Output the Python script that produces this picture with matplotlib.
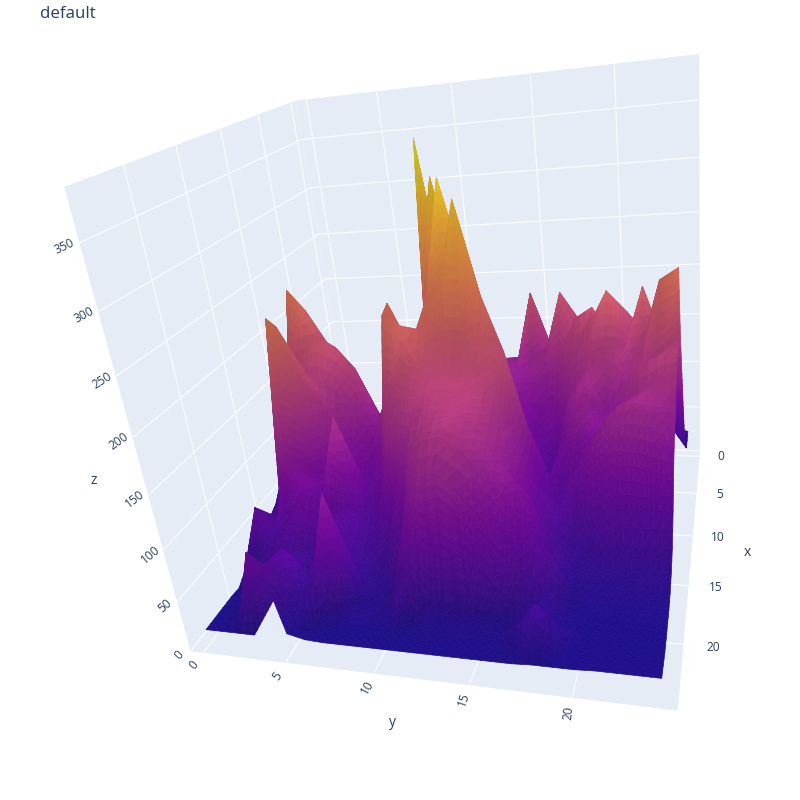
import numpy as np
import matplotlib
matplotlib.use('Agg')
import matplotlib.pyplot as plt
from mpl_toolkits.mplot3d import proj3d
from mpl_toolkits.mplot3d.art3d import Poly3DCollection

nan = float('nan')

# rows are x = 0..24, columns are y = 0..24
z_rows = [
    [15,16,16,18,18,18,18,18,18,20,22,24,30,40,45,50,45,50,50,45,40,40,35,30,28],
    [18,20,22,24,24,24,22,22,24,26,30,35,45,60,70,95,80,75,70,65,60,55,50,40,25],
    [20,24,28,30,30,30,26,25,28,32,38,50,60,70,90,130,110,95,100,85,80,70,70,50,25],
    [20,26,34,38,38,36,30,28,32,38,46,70,75,90,120,165,130,130,140,110,105,100,95,70,35],
    [22,28,40,46,46,42,36,32,36,44,60,90,90,110,135,200,150,150,170,150,130,130,120,90,55],
    [22,30,46,55,55,50,42,36,40,50,70,110,110,140,130,140,150,205,170,175,160,160,150,120,90],
    [24,32,52,65,62,56,46,40,44,55,80,130,140,135,130,130,130,150,185,195,165,190,170,155,130],
    [24,34,60,78,72,62,50,40,44,55,110,160,170,120,120,120,120,130,165,185,215,160,218,170,170],
    [24,36,62,85,76,66,52,40,42,52,360,200,200,180,120,100,95,110,150,165,170,165,170,228,238],
    [25,40,70,90,80,70,55,40,40,50,120,330,230,200,170,100,80,85,130,155,165,150,150,165,180],
    [30,90,190,170,140,130,110,85,70,90,130,310,230,200,180,110,65,70,130,150,120,140,165,172,175],
    [35,120,245,225,195,170,150,110,90,120,150,250,335,260,210,150,70,60,110,140,110,120,145,158,165],
    [40,110,190,195,205,195,175,130,125,170,180,240,260,320,240,190,120,70,90,100,120,140,148,145,135],
    [45,95,140,170,170,160,135,115,150,240,200,215,205,205,210,200,130,70,70,95,125,140,145,142,125],
    [45,70,120,190,175,140,100,90,120,235,225,195,185,185,188,185,125,75,60,80,100,115,115,110,105],
    [40,60,95,232,180,100,85,75,90,170,190,182,180,180,178,168,125,85,55,50,60,70,70,70,70],
    [35,50,75,245,100,100,155,70,70,130,175,172,175,175,173,160,125,85,50,35,40,45,45,45,45],
    [30,40,60,120,100,90,80,65,55,80,120,162,170,170,168,152,120,85,50,28,30,30,30,32,32],
    [25,80,55,70,90,60,70,55,40,55,80,145,165,168,162,145,125,110,55,24,24,24,24,24,24],
    [22,30,50,55,50,45,60,50,32,35,50,120,158,162,152,135,115,90,70,22,20,20,20,20,20],
    [14,25,35,45,50,40,70,45,28,25,30,100,135,140,125,105,85,55,45,20,17,17,17,18,18],
    [15,18,30,50,70,40,50,125,25,20,30,60,32,30,28,26,24,22,28,18,16,16,16,16,16],
    [15,15,30,60,55,30,50,30,20,20,20,18,18,18,18,18,18,30,48,28,16,15,15,15,15],
    [15,15,25,85,40,22,18,16,15,15,15,15,15,16,16,16,16,18,30,20,16,16,16,16,16],
    [15,15,15,15,nan,20,16,15,15,15,15,15,15,15,15,15,15,15,16,16,16,17,17,17,17],
]
x_ticks = [0, 5, 10, 15, 20]
y_ticks = [0, 5, 10, 15, 20]
z_ticks = [0, 50, 100, 150, 200, 250, 300, 350]

z = np.array(z_rows, dtype=float)
x = np.arange(z.shape[0])
y = np.arange(z.shape[1])

plt.rcParams['font.family'] = ['Open Sans', 'DejaVu Sans']
plt.rcParams['grid.color'] = 'white'
plt.rcParams['grid.linewidth'] = 0.75

fig = plt.figure(figsize=(8, 8), dpi=100)
ax = fig.add_axes([-0.049, -0.0285, 1, 1], projection='3d')
ax.set_proj_type('persp', focal_length=0.2183)
ax.view_init(elev=23.7, azim=23.2, roll=8.9)
ax.set_box_aspect((1, 1, 1), zoom=0.955)
ax.set_xlim(-0.8, 24.7)
ax.set_ylim(-0.8, 24.7)
ax.set_zlim(0, 388)

# plotly's camera does not aim at the middle of the box, mplot3d's always does
orig_proj = ax.get_proj
def shifted_proj():
    M = orig_proj()
    M[0, 3] += 0.0394
    M[1, 3] += 0.0328
    return M
ax.get_proj = shifted_proj

# normals for the shading, from the same grid
filled = np.where(np.isnan(z), 15, z)
dzdx, dzdy = np.gradient(filled)
k = 25.5 / 388
normals = np.dstack([-dzdx * k, -dzdy * k, np.ones_like(z)])
normals /= np.linalg.norm(normals, axis=2, keepdims=True)
light = np.array([-0.2, 0.3, 1.0])
light /= np.linalg.norm(light)
tone = np.clip(0.76 + 0.2 * (normals @ light).clip(0) ** 2, 0, 1)

# each grid triangle is cut into smaller flat ones, only to get a colour gradient
# along it; the cut points stay on the triangle so the shape does not change
verts = []
cols = []
cmap = plt.get_cmap('plasma')

def add_triangle(p0, p1, p2):
    corner = np.array([[x[p[0]], y[p[1]], z[p]] for p in (p0, p1, p2)])
    ton = np.array([tone[p0], tone[p1], tone[p2]])
    n_sub = int(np.clip(np.ptp(corner[:, 2]) / 10, 2, 14))
    for i in range(n_sub):
        for j in range(n_sub - i):
            tris = [[(i, j), (i + 1, j), (i, j + 1)]]
            if i + j < n_sub - 1:
                tris.append([(i + 1, j), (i + 1, j + 1), (i, j + 1)])
            for tri in tris:
                w = np.array([[a, b, n_sub - a - b] for a, b in tri]) / n_sub
                pts = w @ corner
                t = (w @ ton).mean()
                level = (pts[:, 2].mean() - 10) / 350
                rgb = np.array(cmap(level))[:3] * t + 0.04
                verts.append(pts)
                cols.append(np.clip(rgb, 0, 1))

for r in range(z.shape[0] - 1):
    for c in range(z.shape[1] - 1):
        a, b, d, e = (r, c), (r + 1, c), (r + 1, c + 1), (r, c + 1)
        good = [p for p in (a, b, d, e) if not np.isnan(z[p])]
        if len(good) == 4:
            add_triangle(a, b, e)
            add_triangle(b, d, e)
        elif len(good) == 3:
            add_triangle(*good)

surf = Poly3DCollection(verts, facecolors=cols, edgecolors=cols, linewidths=0.5)
ax.add_collection3d(surf, autolim=False)

pane = '#E5ECF6'
tick_color = '#2a3f5f'
for axis in (ax.xaxis, ax.yaxis, ax.zaxis):
    axis.set_pane_color(pane)
    axis.pane.set_edgecolor(pane)
    axis.line.set_color((1, 1, 1, 0))
    axis._axinfo['tick']['inward_factor'] = 0
    axis._axinfo['tick']['outward_factor'] = 0

ax.set_xticks(x_ticks)
ax.set_yticks(y_ticks)
ax.set_zticks(z_ticks)
ax.set_xticklabels([])
ax.set_yticklabels([])
ax.set_zticklabels([])

# plotly puts its tick labels in other spots than mplot3d, so they are placed by hand
M = ax.get_proj()
def tick_label(px, py, pz, text, rot=0):
    sx, sy, _ = proj3d.proj_transform(px, py, pz, M)
    ax.text2D(sx, sy, text, transform=ax.transData, fontsize=8.6, color=tick_color,
              ha='center', va='center', rotation=rot, rotation_mode='anchor')

for v in x_ticks:
    tick_label(v, 26.1, 0, str(v))
for v, rot in zip(y_ticks, [50, 55, 60, 72, 85]):
    tick_label(25.8, v, 0, str(v), rot)
for v, rot in zip(z_ticks, [48, 42, 40, 38, 35, 32, 28, 25]):
    tick_label(25.2, -1.3, v, str(v), rot)

fig.text(40 / 800, 1 - 14 / 800, 'default', fontsize=12.2, color=tick_color, va='center')
fig.text(747 / 800, 1 - 553 / 800, 'x', fontsize=10, color=tick_color, ha='center', va='center')
fig.text(392 / 800, 1 - 722 / 800, 'y', fontsize=10, color=tick_color, ha='center', va='center')
fig.text(94 / 800, 1 - 480 / 800, 'z', fontsize=10, color=tick_color, ha='center', va='center')

fig.savefig('out.png', dpi=100)
